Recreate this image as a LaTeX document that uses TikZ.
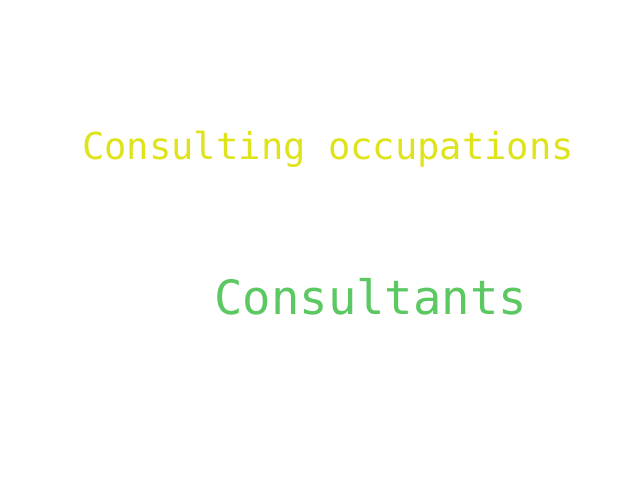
\documentclass[tikz,border=0pt]{standalone}
\usepackage{fontspec}
\setmonofont{DejaVu Sans Mono}
\usepackage{tikz}
\definecolor{cloudyellow}{HTML}{DFE31C}
\definecolor{cloudgreen}{HTML}{5BC862}
\tikzset{word/.style={inner sep=0pt,anchor=base west,font=\ttfamily}}

\begin{document}
\begin{tikzpicture}
		\useasboundingbox (0,0) rectangle (16,12);

		\node[word, text = cloudyellow, font = \ttfamily\fontsize{26.4}{30}\selectfont] at (2.05,8.02) (occupations) {Consulting occupations};

		\node[word, text = cloudgreen, font = \ttfamily\fontsize{33.6}{38}\selectfont] at (5.35,4.15) (consultants) {Consultants};
	\end{tikzpicture}
\end{document}
